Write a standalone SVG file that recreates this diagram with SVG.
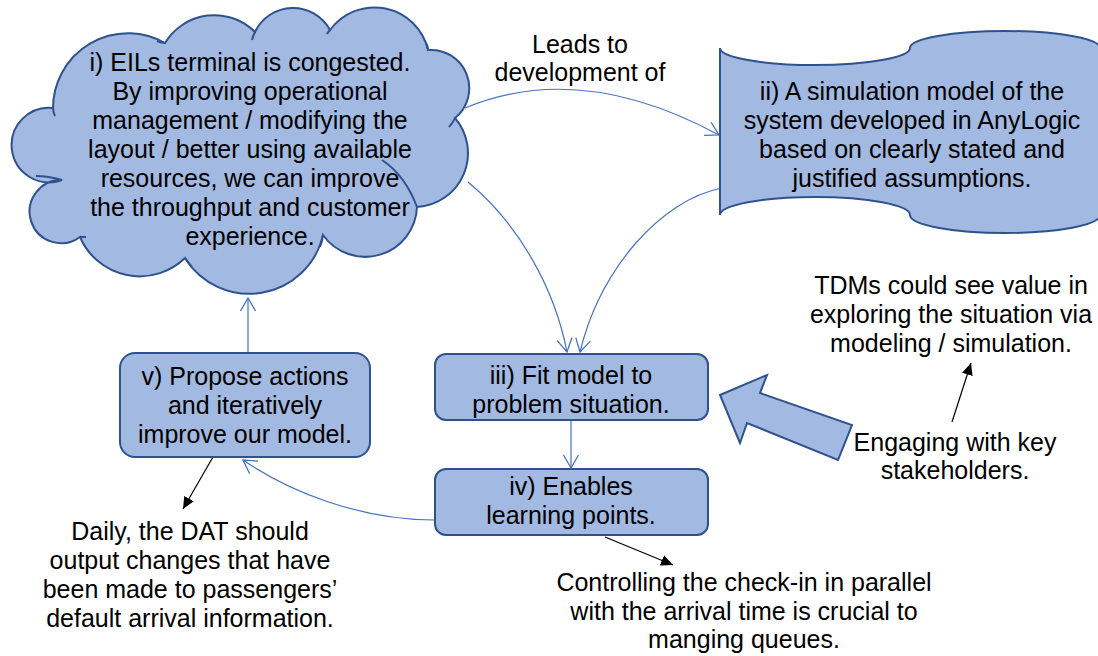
<svg xmlns="http://www.w3.org/2000/svg" width="1098" height="656" viewBox="0 0 1098 656">
  <style>
    .node { fill: #A2B9E1; stroke: #2F528F; stroke-width: 2; }
    .tail { fill: none; stroke: #2F528F; stroke-width: 2; }
    .t { font-family: "Liberation Sans", Arial, sans-serif; font-size: 25px; fill: #000; text-anchor: middle; }
    .conn { fill: none; stroke: #4472C4; stroke-width: 1.2; }
    .blk { fill: none; stroke: #000; stroke-width: 1.2; }
  </style>
  <defs>
    <marker id="openArrow" markerUnits="userSpaceOnUse" markerWidth="16" markerHeight="18" viewBox="0 0 16 18" refX="14" refY="9" orient="auto">
      <path d="M1,1.5 L14,9 L1,16.5" fill="none" stroke="#4472C4" stroke-width="1.3"/>
    </marker>
    <marker id="solidArrow" markerUnits="userSpaceOnUse" markerWidth="13" markerHeight="12" viewBox="0 0 13 12" refX="12" refY="6" orient="auto">
      <path d="M0,0.5 L12,6 L0,11.5 Z" fill="#000"/>
    </marker>
  </defs>

  <g id="connectors">
    <path class="conn" d="M465,108 Q580,60 719,135" marker-end="url(#openArrow)"/>
    <path class="conn" d="M468,182 C520,225 555,290 567,352" marker-end="url(#openArrow)"/>
    <path class="conn" d="M722,188 C660,200 600,270 580,352" marker-end="url(#openArrow)"/>
    <path class="conn" d="M571,420 L571,468" marker-end="url(#openArrow)"/>
    <path class="conn" d="M435,520 C360,520 290,492 243,460" marker-end="url(#openArrow)"/>
    <path class="conn" d="M248,353 L248,298" marker-end="url(#openArrow)"/>
    <path class="blk" d="M213,457 L183,509" marker-end="url(#solidArrow)"/>
    <path class="blk" d="M605,537 L673,565" marker-end="url(#solidArrow)"/>
    <path class="blk" d="M952,422 L971,363" marker-end="url(#solidArrow)"/>
  </g>

  <g id="node-cloud">
    <path class="node" d="M62,180 A37.3,37.3 0 1 1 53,108 A75,75 0 0 1 165,43 A57.6,57.6 0 0 1 255,32 A42,42 0 0 1 330,30 A55,55 0 0 1 428,50 A38.3,38.3 0 0 1 455,118 A54,54 0 0 1 417,207 A51.8,51.8 0 0 1 323,235 A75.6,75.6 0 0 1 185,258 A65,65 0 0 1 80,237 A31.6,31.6 0 1 1 62,180 Z"/>
    <path class="tail" d="M53,108 Q53,112 55,116"/>
    <path class="tail" d="M165,43 Q161,43 157,41"/>
    <path class="tail" d="M255,32 Q253,36 252,40"/>
    <path class="tail" d="M330,30 Q328,32 327,34"/>
    <path class="tail" d="M428,50 Q428,46 426,43"/>
    <path class="tail" d="M455,118 Q453,123 449,127"/>
    <path class="tail" d="M417,207 Q405,175 382,160"/>
    <path class="tail" d="M323,235 Q322,242 320,247"/>
    <path class="tail" d="M185,258 Q188,263 192,267"/>
    <path class="tail" d="M80,237 Q83,237 86,237"/>
    <path class="tail" d="M62,180 Q48,176 36,176"/>
    <text class="t" x="250" y="71">i) EILs terminal is congested.</text>
    <text class="t" x="250" y="100">By improving operational</text>
    <text class="t" x="250" y="129">management / modifying the</text>
    <text class="t" x="250" y="158">layout / better using available</text>
    <text class="t" x="250" y="187">resources, we can improve</text>
    <text class="t" x="250" y="216">the throughput and customer</text>
    <text class="t" x="250" y="245">experience.</text>
  </g>

  <g id="label-leads">
    <text class="t" x="580" y="53">Leads to</text>
    <text class="t" x="580" y="81">development of</text>
  </g>

  <g id="node-model">
    <path class="node" d="M720,48 A95,17 0 0 0 910,48 A95,17 0 0 1 1100,48 L1100,215 A95,18 0 0 1 910,215 A95,18 0 0 0 720,215 Z"/>
    <text class="t" x="912" y="100">ii) A simulation model of the</text>
    <text class="t" x="912" y="129">system developed in AnyLogic</text>
    <text class="t" x="912" y="158">based on clearly stated and</text>
    <text class="t" x="912" y="187">justified assumptions.</text>
  </g>

  <g id="node-fit">
    <rect class="node" x="435" y="354" width="273" height="66" rx="11"/>
    <text class="t" x="571" y="384">iii) Fit model to</text>
    <text class="t" x="571" y="413">problem situation.</text>
  </g>

  <g id="node-learning">
    <rect class="node" x="435" y="469" width="273" height="66" rx="11"/>
    <text class="t" x="571" y="495">iv) Enables</text>
    <text class="t" x="571" y="524">learning points.</text>
  </g>

  <g id="node-propose">
    <rect class="node" x="120" y="353" width="250" height="104" rx="15"/>
    <text class="t" x="245" y="385">v) Propose actions</text>
    <text class="t" x="245" y="414">and iteratively</text>
    <text class="t" x="245" y="443">improve our model.</text>
  </g>

  <g id="block-arrow">
    <polygon class="node" points="720,395 767,375 760,393 852,425 838,460 747,423 740,443"/>
  </g>

  <g id="note-tdm">
    <text class="t" x="951" y="294">TDMs could see value in</text>
    <text class="t" x="951" y="323">exploring the situation via</text>
    <text class="t" x="951" y="352">modeling / simulation.</text>
  </g>

  <g id="note-engaging">
    <text class="t" x="955" y="451">Engaging with key</text>
    <text class="t" x="955" y="479">stakeholders.</text>
  </g>

  <g id="note-daily">
    <text class="t" x="190" y="540">Daily, the DAT should</text>
    <text class="t" x="190" y="569">output changes that have</text>
    <text class="t" x="190" y="598">been made to passengers’</text>
    <text class="t" x="190" y="627">default arrival information.</text>
  </g>

  <g id="note-controlling">
    <text class="t" x="744" y="591">Controlling the check-in in parallel</text>
    <text class="t" x="744" y="620">with the arrival time is crucial to</text>
    <text class="t" x="744" y="648">manging queues.</text>
  </g>
</svg>
